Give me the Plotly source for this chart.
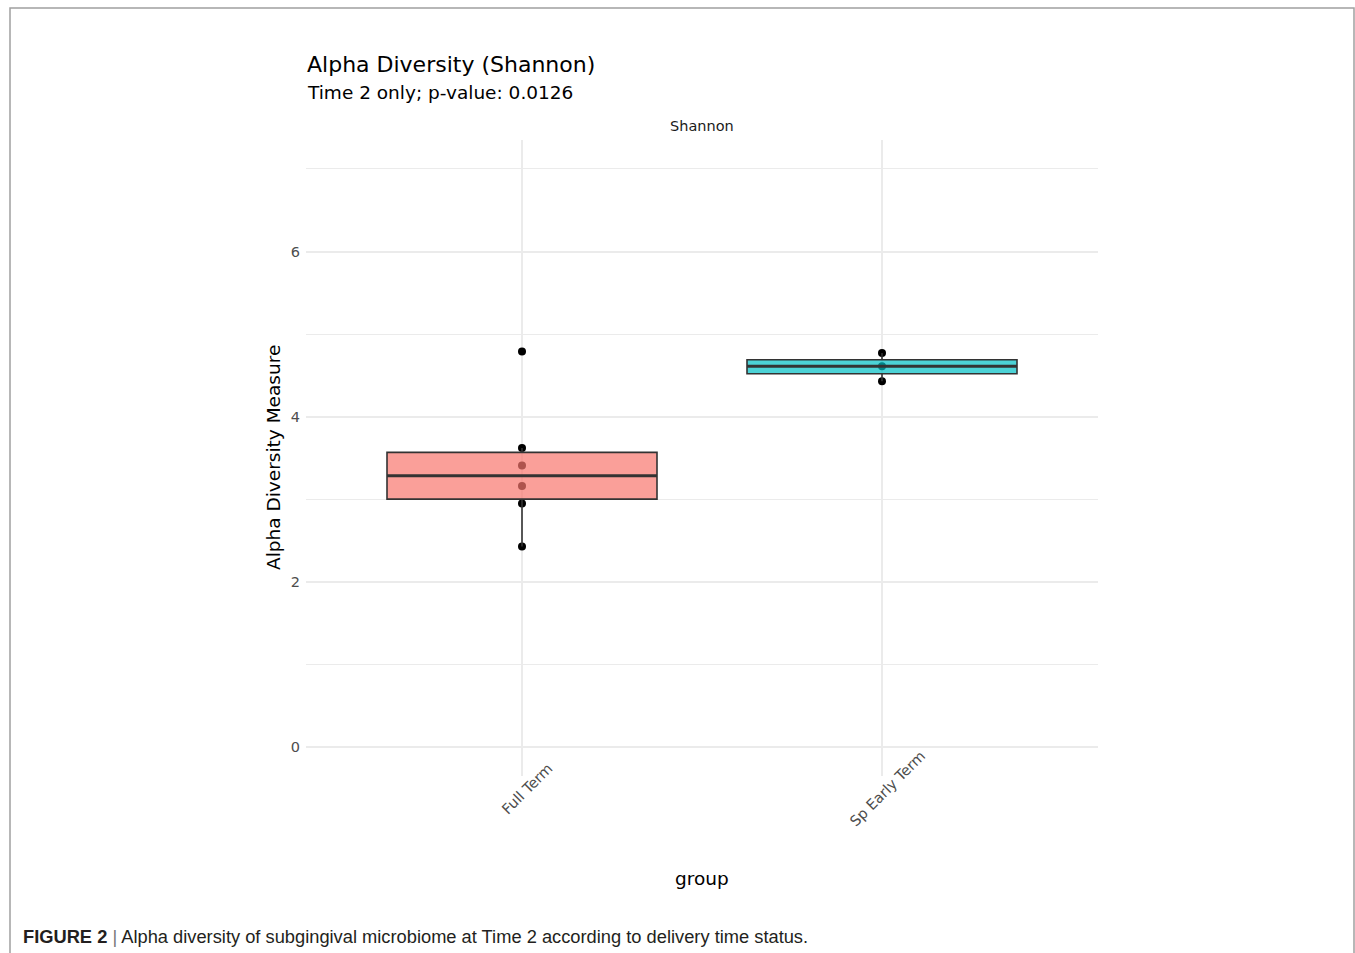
import numpy as np
import plotly.graph_objects as go

# Shannon index per sample at Time 2, by delivery group
groups = ["Full Term", "Sp Early Term"]
full_term = [2.43, 2.95, 3.16, 3.41, 3.62, 4.79]
sp_early_term = [4.43, 4.61, 4.77]
fill_colors = ["rgba(248,118,109,0.7)", "rgba(0,191,196,0.7)"]
y_ticks = [0, 2, 4, 6]

samples = [full_term, sp_early_term]
positions = list(range(len(groups)))
box_width = 0.75

W, H = 1355, 953
L, R, T, B = 306, 257, 140, 177
pw, ph = W - L - R, H - T - B


def px_x(px):
    return (px - L) / pw


def px_y(py):
    return (H - B - py) / ph


fig = go.Figure()

# raw sample points (base axes, drawn beneath the boxes)
for pos, vals in zip(positions, samples):
    fig.add_trace(go.Scatter(
        x=[pos] * len(vals), y=vals, mode="markers",
        marker=dict(color="black", size=8),
        showlegend=False, hoverinfo="y",
    ))

# boxplots with Tukey whiskers (1.5 IQR), on overlay axes so they sit on top
for pos, vals, col in zip(positions, samples, fill_colors):
    v = np.sort(np.array(vals))
    q1, med, q3 = np.percentile(v, [25, 50, 75])
    iqr = q3 - q1
    lo = v[v >= q1 - 1.5 * iqr].min()
    hi = v[v <= q3 + 1.5 * iqr].max()
    fig.add_trace(go.Box(
        x=[pos], q1=[q1], median=[med], q3=[q3],
        lowerfence=[lo], upperfence=[hi],
        width=box_width, whiskerwidth=0,
        fillcolor=col, line=dict(color="#333333", width=1.6),
        boxpoints=False, showlegend=False,
        xaxis="x2", yaxis="y2",
    ))
    # heavier median bar
    fig.add_trace(go.Scatter(
        x=[pos - box_width / 2, pos + box_width / 2], y=[med, med],
        mode="lines", line=dict(color="#333333", width=3),
        showlegend=False, hoverinfo="skip",
        xaxis="x2", yaxis="y2",
    ))

xr = [-0.6, 1.6]
yr = [-0.35, 7.35]
grid = "#EBEBEB"
tickfont = dict(family="DejaVu Sans", size=14.5, color="#4D4D4D")

fig.update_layout(
    width=W, height=H,
    margin=dict(l=L, r=R, t=T, b=B),
    paper_bgcolor="white", plot_bgcolor="white",
    font=dict(family="DejaVu Sans", color="black"),
    xaxis=dict(
        range=xr, tickvals=positions, showticklabels=False,
        showgrid=True, gridcolor=grid, gridwidth=2,
        zeroline=False, showline=False, ticks="",
    ),
    yaxis=dict(
        range=yr, tickvals=y_ticks, tickfont=tickfont,
        showgrid=True, gridcolor=grid, gridwidth=2,
        minor=dict(dtick=1, tick0=0, showgrid=True, gridcolor=grid, gridwidth=1),
        zeroline=False, showline=False, ticks="",
        ticklabelstandoff=5,
    ),
    xaxis2=dict(range=xr, overlaying="x", visible=False),
    yaxis2=dict(range=yr, overlaying="y", visible=False),
    showlegend=False,
)

# category labels, rotated 45° and centred under each group
for pos, name in zip(positions, groups):
    fig.add_annotation(
        x=pos, xref="x", y=px_y(789), yref="paper", text=name,
        textangle=-45, xanchor="center", yanchor="middle", xshift=5,
        showarrow=False, font=tickfont,
    )

# outer figure frame
fl, fr, ft, fb = px_x(10), px_x(1354), px_y(8), px_y(960)
fig.add_shape(
    type="path", xref="paper", yref="paper",
    path=f"M {fl} {fb} L {fl} {ft} L {fr} {ft} L {fr} {fb}",
    line=dict(color="#A0A0A0", width=1.5),
)

ann = [
    dict(text="Alpha Diversity (Shannon)", x=px_x(305), y=px_y(64), xanchor="left",
         yanchor="middle", font=dict(size=22, color="black")),
    dict(text="Time 2 only; p-value: 0.0126", x=px_x(305), y=px_y(92), xanchor="left",
         yanchor="middle", font=dict(size=18.5, color="black")),
    dict(text="Shannon", x=0.5, y=px_y(126), xanchor="center", yanchor="middle",
         font=dict(size=14.5, color="#1A1A1A")),
    dict(text="Alpha Diversity Measure", x=px_x(273), y=0.5, textangle=-90,
         xanchor="center", yanchor="middle", font=dict(size=18.5, color="black")),
    dict(text="group", x=0.5, y=px_y(878), xanchor="center", yanchor="middle",
         font=dict(size=18.5, color="black")),
    dict(text="<b>FIGURE 2</b> <span style='color:#777777'>|</span> "
              "Alpha diversity of subgingival microbiome at Time 2 according to delivery time status.",
         x=px_x(21), y=px_y(937), xanchor="left", yanchor="middle",
         font=dict(family="Liberation Sans", size=18.3, color="#231F20")),
]
for a in ann:
    fig.add_annotation(xref="paper", yref="paper", showarrow=False, **a)

fig.write_html("out.html")
